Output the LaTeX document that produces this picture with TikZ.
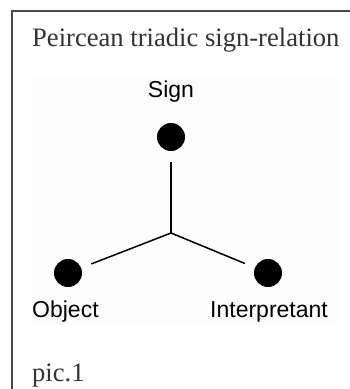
\documentclass[tikz,border=0pt]{standalone}
\usepackage{fontspec}
\setmainfont{Liberation Serif}
\newfontfamily\labelfont{Liberation Sans}
\definecolor{framegray}{HTML}{4A4A4A}
\definecolor{textgray}{HTML}{333333}
\definecolor{panelbg}{HTML}{FDFDFD}
\begin{document}
\begin{tikzpicture}[x=1pt,y=-1pt,
  dot/.style={circle,fill=black,draw=none,minimum size=28pt,inner sep=0pt,outer sep=0pt},
  lbl/.style={font=\labelfont\fontsize{23}{27}\selectfont,text=black,inner sep=0pt},
  serif/.style={font=\fontsize{26.6}{30}\selectfont,text=textgray,inner sep=0pt},
  edge/.style={line width=1.5pt,black,shorten <=11pt}
]
\useasboundingbox (0,0) rectangle (350,389);
\fill[white] (0,0) rectangle (350,389);
\fill[panelbg] (32,77) rectangle (338,325);
\draw[framegray,line width=2pt] (12,389) -- (12,11) -- (350,11);
\node[serif,anchor=base west] (title) at (32,46) {Peircean triadic sign-relation};
\node[serif,anchor=base west] (pic) at (32,381.5) {pic.1};
\node[dot] (sign) at (171,137) {};
\node[dot] (object) at (68,273) {};
\node[dot] (interp) at (268,273) {};
\coordinate (c) at (171,233);
\node[lbl,anchor=base] (signl) at (171,97) {Sign};
\node[lbl,anchor=base west] (objl) at (32,317) {Object};
\node[lbl,anchor=base west] (intl) at (210,317) {Interpretant};
\draw[edge] (sign) -- (c);
\draw[edge,shorten <=0pt,shorten >=11pt] (c) -- (object);
\draw[edge,shorten <=0pt,shorten >=11pt] (c) -- (interp);
\end{tikzpicture}
\end{document}
